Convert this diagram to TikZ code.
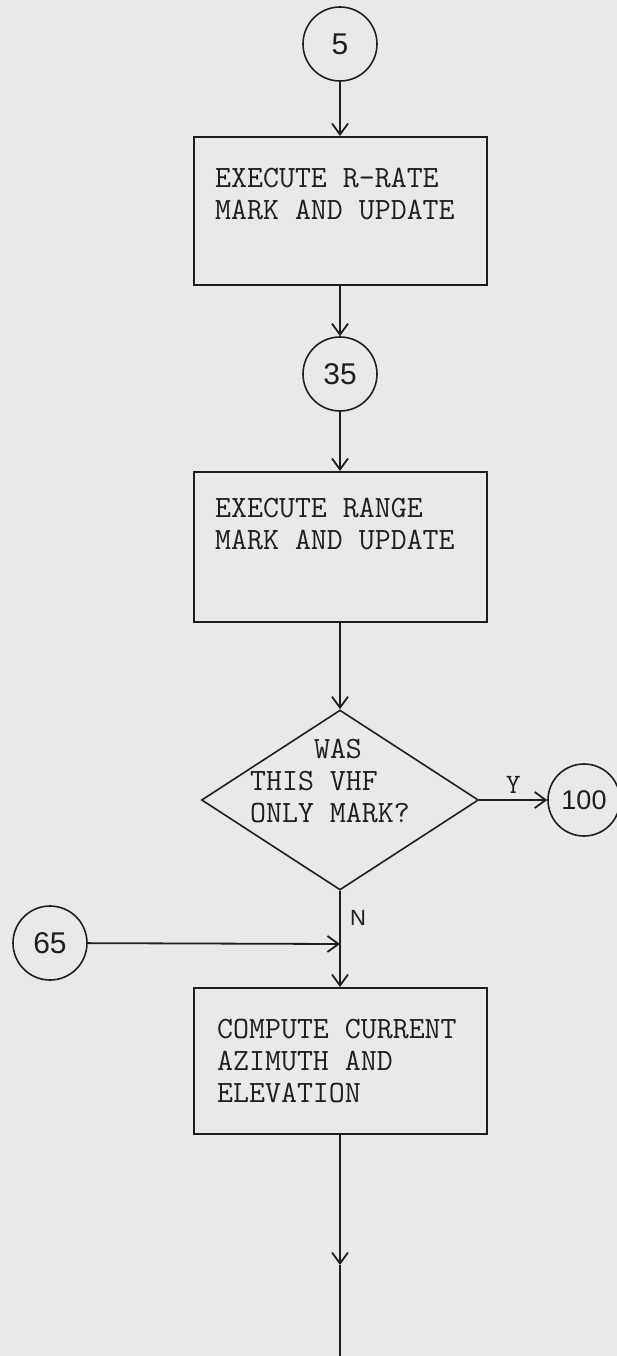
\documentclass[tikz,border=0pt]{standalone}
\usepackage{fontspec}
\setmainfont{Liberation Serif}
\newfontfamily\handf{Liberation Sans}
\usetikzlibrary{shapes.geometric,arrows.meta}
\definecolor{paper}{RGB}{233,233,233}
\definecolor{ink}{RGB}{30,30,30}
\begin{document}
\begin{tikzpicture}[x=1pt,y=-1pt,
  every node/.style={text=ink},
  procbox/.style={draw=ink, line width=2pt, inner sep=0pt, minimum width=293pt},
  conn/.style={circle, draw=ink, line width=1.6pt, minimum size=74pt, inner sep=0pt,
    font=\handf\fontsize{30}{30}\selectfont},
  boxtext/.style={anchor=west, align=left, inner sep=0pt,
    font=\ttfamily\fontsize{31}{32}\selectfont},
  decide/.style={diamond, draw=ink, line width=1.6pt, minimum width=277pt,
    minimum height=180pt, inner sep=0pt},
  flow/.style={draw=ink, line width=1.8pt, -{Straight Barb[length=11pt,width=16pt,line width=1.8pt]}},
  plain/.style={draw=ink, line width=1.8pt}
]
\fill[paper] (0,0) rectangle (617,1356);
\useasboundingbox (0,0) rectangle (617,1356);

% connectors (circles)
\node[conn] (c5) at (340,44) {5};
\node[conn] (c35) at (340,374) {35};
\node[conn, minimum size=72pt, font=\handf\fontsize{27}{27}\selectfont] (c100) at (584,800) {100};
\node[conn] (c65) at (50,943) {65};

% process boxes
\node[procbox, minimum height=148pt] (b1) at (340,211) {};
\node[boxtext] (t1) at (215,194) {EXECUTE R-RATE\\MARK AND UPDATE};

\node[procbox, minimum height=150pt] (b2) at (340,547) {};
\node[boxtext] (t2) at (215,524) {EXECUTE RANGE\\MARK AND UPDATE};

\node[procbox, minimum height=146pt] (b3) at (340,1061) {};
\node[boxtext] (t3) at (217,1061) {COMPUTE CURRENT\\AZIMUTH AND\\ELEVATION};

% decision
\node[decide] (d) at (340,800) {};
\node[boxtext] (td) at (250,781) {\phantom{THIS}WAS\\THIS VHF\\ONLY MARK?};

% flow lines
\draw[flow] (c5) -- (b1);
\draw[flow] (b1) -- (c35);
\draw[flow] (c35) -- (b2);
\draw[flow] (b2) -- (d);
\draw[flow] (d.east) -- node[above=2pt, font=\ttfamily\fontsize{28}{28}\selectfont] (ly) {Y} (c100);
\draw[flow] (d.south) -- (b3.north);
\node[font=\handf\fontsize{22}{22}\selectfont] (ln) at (358,918) {N};
\coordinate (j) at (340,944);
\draw[flow] (c65) -- (j);
\coordinate (m) at (340,1265);
\coordinate (e) at (340,1356);
\draw[flow] (b3) -- (m);
\draw[plain] (m) -- (e);
\end{tikzpicture}
\end{document}
